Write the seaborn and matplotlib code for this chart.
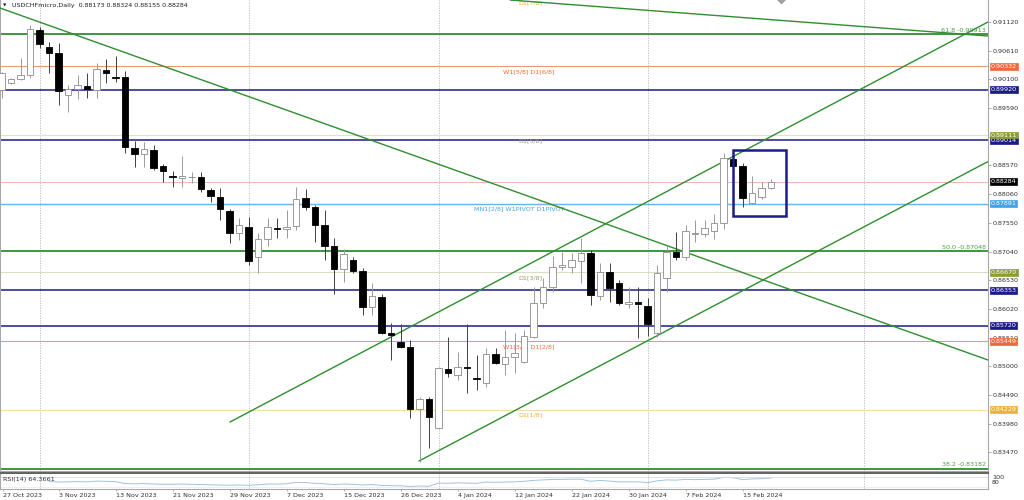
"""
USDCHFmicro daily candles with pivot / murrey levels, channel and RSI pane
"""

import matplotlib
matplotlib.use("Agg")
import matplotlib.pyplot as plt
import matplotlib.transforms as mtransforms
from matplotlib.patches import Rectangle
import numpy as np
import pandas as pd
import seaborn as sns

# Data: daily bars 26 Oct 2023 .. 20 Feb 2024 (no bars on 25 Dec / 1 Jan)
opens = [0.89911, 0.90041, 0.90101, 0.90178, 0.90978, 0.90681, 0.90569, 0.89822, 0.89929, 0.89982,
         0.89911, 0.90267, 0.90142, 0.90142, 0.88880, 0.88774, 0.88845, 0.88560, 0.88374, 0.88347,
         0.88356, 0.88365, 0.88134, 0.88009, 0.87761, 0.87370, 0.87476, 0.86943, 0.87263, 0.87467,
         0.87441, 0.87494, 0.87992, 0.87832, 0.87512, 0.87139, 0.86730, 0.86890, 0.86694, 0.86054,
         0.86232, 0.85592, 0.85432, 0.85343, 0.84241, 0.84419, 0.83904, 0.84952, 0.84846, 0.84988,
         0.84792, 0.84703, 0.85219, 0.85041, 0.85166, 0.85077, 0.85521, 0.86125, 0.86410, 0.86765,
         0.86765, 0.86872, 0.87014, 0.86250, 0.86676, 0.86481, 0.86108, 0.86143, 0.86072, 0.85592,
         0.86570, 0.87032, 0.86943, 0.87352, 0.87352, 0.87405, 0.87547, 0.88685, 0.88560, 0.87903,
         0.88009, 0.88173]
highs = [0.90231, 0.90125, 0.90480, 0.91067, 0.91031, 0.90765, 0.90747, 0.90000, 0.90178, 0.90214,
         0.90391, 0.90462, 0.90516, 0.90249, 0.89005, 0.88987, 0.88934, 0.88600, 0.88472, 0.88738,
         0.88454, 0.88454, 0.88170, 0.88170, 0.87796, 0.87636, 0.87654, 0.87370, 0.87636, 0.87636,
         0.87778, 0.88187, 0.88152, 0.87867, 0.87778, 0.87281, 0.87085, 0.86943, 0.86747, 0.86481,
         0.86285, 0.85770, 0.85752, 0.85468, 0.84455, 0.84455, 0.84988, 0.85521, 0.85255, 0.85752,
         0.85201, 0.85326, 0.85326, 0.85646, 0.85592, 0.85646, 0.86410, 0.86570, 0.86961, 0.87032,
         0.87014, 0.87281, 0.87067, 0.86836, 0.86836, 0.86534, 0.86410, 0.86410, 0.86214, 0.86801,
         0.87156, 0.87387, 0.87512, 0.87601, 0.87601, 0.87707, 0.88791, 0.88738, 0.88614, 0.88383,
         0.88276, 0.88324]
lows = [0.89769, 0.90018, 0.90089, 0.90125, 0.90658, 0.90214, 0.89645, 0.89520, 0.89751, 0.89769,
        0.89769, 0.90036, 0.90054, 0.88791, 0.88543, 0.88543, 0.88489, 0.88276, 0.88187, 0.88187,
        0.88258, 0.88098, 0.87920, 0.87601, 0.87192, 0.87245, 0.86801, 0.86659, 0.87139, 0.87281,
        0.87281, 0.87423, 0.87778, 0.87210, 0.86890, 0.86285, 0.86499, 0.86659, 0.85912, 0.85912,
        0.85583, 0.85112, 0.85326, 0.84081, 0.83299, 0.83548, 0.83886, 0.84810, 0.84757, 0.84526,
        0.84579, 0.84632, 0.85041, 0.84846, 0.84881, 0.85059, 0.85503, 0.86037, 0.86321, 0.86712,
        0.86659, 0.86481, 0.86090, 0.86179, 0.86143, 0.86090, 0.86037, 0.85503, 0.85539, 0.85521,
        0.86321, 0.86890, 0.86890, 0.87210, 0.87299, 0.87263, 0.87441, 0.88525, 0.87832, 0.87885,
        0.87974, 0.88155]
closes = [0.90214, 0.90101, 0.90183, 0.90996, 0.90729, 0.90574, 0.89885, 0.89929, 0.90000, 0.89929,
          0.90285, 0.90214, 0.90130, 0.88898, 0.88774, 0.88863, 0.88525, 0.88472, 0.88356, 0.88383,
          0.88365, 0.88152, 0.88027, 0.87796, 0.87370, 0.87512, 0.86872, 0.87263, 0.87476, 0.87449,
          0.87476, 0.87974, 0.87832, 0.87512, 0.87139, 0.86730, 0.86996, 0.86694, 0.86054, 0.86250,
          0.85592, 0.85548, 0.85343, 0.84241, 0.84419, 0.84098, 0.84970, 0.84881, 0.84988, 0.84970,
          0.84783, 0.85219, 0.85059, 0.85166, 0.85237, 0.85539, 0.86125, 0.86410, 0.86765, 0.86792,
          0.86890, 0.87014, 0.86268, 0.86676, 0.86392, 0.86125, 0.86143, 0.86108, 0.85752, 0.86659,
          0.87032, 0.86943, 0.87405, 0.87361, 0.87467, 0.87547, 0.88703, 0.88560, 0.87992, 0.88081,
          0.88170, 0.88284]

# RSI(14), first value is for the 6th bar
rsi_start = 5
rsi_values = [51, 48, 49, 50, 49, 52, 51, 50,
              42, 41, 42, 40, 39,
              39, 40, 39, 38, 37, 36, 35, 36,
              35,
              37, 40, 40, 41, 47,
              46, 43, 41, 38, 40, 39,
              36, 38, 34, 33, 33, 30, 32, 31,
              44, 43, 45, 44, 43, 48, 47, 48, 49, 51,
              55, 57, 59, 59, 60, 60,
              51, 55, 52, 49, 49, 49,
              46, 53, 57, 56, 59, 58, 59, 60, 67,
              66, 58, 61, 62, 64.3661]

# Price levels
fib_prices = [0.90913, 0.87048, 0.83182]
fib_names = ["61.8", "50.0", "38.2"]
murrey_prices = [0.91552, 0.90332, 0.89111, 0.87891, 0.86670, 0.85449, 0.84229]
murrey_labels = ["D1[7/8]", "W1[5/8] D1[6/8]", "D1[5/8]", "MN1[2/8] W1PIVOT D1PIVOT",
                 "D1[3/8]", "W1[3/8] D1[2/8]", "D1[1/8]"]
navy_prices = [0.89920, 0.89014, 0.86353, 0.85720]

# Trend lines as (bar index pair, price pair)
trend_lines = [
    ([-0.16, 103.84], [0.91369, 0.85112]),
    ([53.53, 103.84], [0.91511, 0.90871]),
    ([24.05, 103.84], [0.84010, 0.91120]),
    ([43.95, 103.84], [0.83317, 0.88639]),
]
box_bars = [77.0, 82.6]
box_prices = [0.87672, 0.88845]

price_ticks = [0.91120, 0.90610, 0.90100, 0.89590, 0.89080, 0.88570, 0.88060, 0.87550,
               0.87040, 0.86530, 0.86020, 0.85510, 0.85000, 0.84490, 0.83980, 0.83470]

# Bar dates
dates = pd.bdate_range("2023-10-26", "2024-02-20")
dates = dates[~dates.isin(pd.to_datetime(["2023-12-25", "2024-01-01"]))]

# Style
sns.set_theme(style="white")
plt.rcParams["font.family"] = ["DejaVu Sans"]
FS = 4.6
GREEN = "#2f8f2f"
NAVY = "#1c1c86"
ORANGE = "#ee6a3c"
GOLD = "#eeb035"
OLIVE = "#8e9c36"
LBLUE = "#45a3e4"

murrey_style = [
    (GOLD, "#f2dca8", 54.4),
    (ORANGE, "#e99a7a", 52.8),
    ("#9a9a78", "#e2e2cc", 54.4),
    (LBLUE, "#7cbfec", 49.7),
    ("#9c9c5c", "#dcdcc4", 54.4),
    (ORANGE, "#e99a7a", 52.8),
    (GOLD, "#f2dca8", 54.4),
]


def main():
    fig = plt.figure(figsize=(10.24, 5.0), dpi=100)
    fig.patch.set_facecolor("white")
    ax = fig.add_axes([0, 1 - 471 / 500, 988 / 1024, 471 / 500])
    rsi_ax = fig.add_axes([0, 1 - 489 / 500, 988 / 1024, 16 / 500])

    n = len(closes)
    x = np.arange(n)
    o, h, l, c = map(np.array, (opens, highs, lows, closes))
    up = c >= o

    # month separators
    month_first = [i for i in range(1, n) if dates[i].month != dates[i - 1].month]
    for i in month_first + [90.8]:
        ax.axvline(i, color="#b8b8b8", lw=0.6, ls=(0, (1.5, 1.5)), zorder=1)
        rsi_ax.axvline(i, color="#b8b8b8", lw=0.6, ls=(0, (1.5, 1.5)), zorder=1)

    # horizontal levels
    for p, (tcol, lcol, lx), lab in zip(murrey_prices, murrey_style, murrey_labels):
        ax.axhline(p, color=lcol, lw=0.8, zorder=2)
        ax.annotate(lab, (lx, p), xytext=(0, -2.2), textcoords="offset points",
                    ha="left", va="top", fontsize=FS, color=tcol, annotation_clip=False,
                    clip_on=True, zorder=3)
    for p in navy_prices:
        ax.axhline(p, color=NAVY, lw=1.1, zorder=2)
    ax.axhline(closes[-1], color="#ebb8a8", lw=0.7, zorder=2)
    ax.axhline(murrey_prices[3], color="#6cb6ea", lw=1.0, zorder=2)
    yx = mtransforms.blended_transform_factory(ax.transAxes, ax.transData)
    for p, name in zip(fib_prices, fib_names):
        ax.axhline(p, color=GREEN, lw=1.3, zorder=2)
        ax.annotate(f"{name} -{p:.5f}", (0.998, p), xycoords=yx, xytext=(0, 0.8),
                    textcoords="offset points", ha="right", va="bottom",
                    fontsize=FS, color="#4c9a4c", zorder=3)

    # trend lines
    for bx, bp in trend_lines:
        ax.plot(bx, bp, color=GREEN, lw=1.0, zorder=4)

    # candles
    wick_col = np.where(up, "#9a9a9a", "#404040")
    ax.vlines(x, l, h, colors=wick_col, lw=0.7, zorder=5)
    body = np.maximum(np.abs(c - o), 0.00003)
    ax.bar(x, body, bottom=np.minimum(o, c), width=0.72,
           color=np.where(up, "white", "black"),
           edgecolor=np.where(up, "#8c8c8c", "black"), linewidth=0.6, zorder=6)

    # selection box
    ax.add_patch(Rectangle((box_bars[0], box_prices[0]), box_bars[1] - box_bars[0],
                           box_prices[1] - box_prices[0], fill=False,
                           edgecolor=NAVY, lw=1.8, zorder=7))
    ax.plot([82.0], [0.91528], marker="D", ms=4, color="#a0a0a0", clip_on=True, zorder=7)

    ax.set_xlim(-0.158, 103.84)
    ax.set_ylim(0.83139, 0.91511)
    ax.yaxis.tick_right()
    ax.set_yticks(price_ticks)
    ax.set_yticklabels([f"{p:.5f}" for p in price_ticks])
    ax.tick_params(axis="y", right=True, length=2, width=0.5, pad=1.5,
                   labelsize=FS, labelcolor="#303030", color="#909090")
    ax.set_xticks([])
    ax.spines["top"].set_visible(False)
    for side in ["right", "left", "bottom"]:
        ax.spines[side].set_color("#a8a8a8")
        ax.spines[side].set_linewidth(0.8)

    # right-axis value boxes (later ones drawn on top)
    boxes = [
        (murrey_prices[1], ORANGE), (navy_prices[0], NAVY), (navy_prices[1], NAVY),
        (murrey_prices[2], OLIVE), (closes[-1], "black"), (murrey_prices[3], LBLUE),
        (murrey_prices[4], OLIVE), (navy_prices[2], NAVY), (navy_prices[3], NAVY),
        (murrey_prices[5], ORANGE), (murrey_prices[6], GOLD),
    ]
    for k, (p, col) in enumerate(boxes):
        ax.text(1.0025, p, f"{p:.5f}", transform=yx, ha="left", va="center",
                fontsize=FS, color="white", zorder=10 + k,
                bbox=dict(boxstyle="square,pad=0.15", fc=col, ec=col, lw=0.5))

    # header
    fig.text(3 / 1024, 1 - 5.5 / 500, "\u25bc", fontsize=3.2, color="#202020",
             ha="left", va="center")
    fig.text(12 / 1024, 1 - 5.5 / 500,
             "USDCHFmicro,Daily  0.88173 0.88324 0.88155 0.88284",
             fontsize=FS, color="#202020", ha="left", va="center")

    # RSI pane
    rsi_df = pd.DataFrame({"bar": np.arange(rsi_start, rsi_start + len(rsi_values)),
                           "rsi": rsi_values})
    sns.lineplot(data=rsi_df, x="bar", y="rsi", ax=rsi_ax, color="#9fc4d8", lw=0.7)
    rsi_ax.axhline(70, color="#dcdcdc", lw=0.6)
    rsi_ax.axhline(30, color="#ececec", lw=0.6)
    rsi_ax.set_xlim(-0.158, 103.84)
    rsi_ax.set_ylim(19.8, 85.1)
    rsi_ax.set_xlabel("")
    rsi_ax.set_ylabel("")
    rsi_ax.set_yticks([])
    rsi_ax.text(0.003, 0.62, f"RSI(14) {rsi_values[-1]:.4f}", transform=rsi_ax.transAxes,
                fontsize=FS, color="#303030", ha="left", va="center")
    rsi_ax.text(1.004, 0.72, "100", transform=rsi_ax.transAxes, fontsize=FS,
                color="#303030", ha="left", va="center")
    rsi_ax.text(1.004, 0.40, "80", transform=rsi_ax.transAxes, fontsize=FS,
                color="#303030", ha="left", va="center")
    rsi_ax.spines["top"].set_color("#606060")
    rsi_ax.spines["top"].set_linewidth(1.4)
    for side in ["left", "right", "bottom"]:
        rsi_ax.spines[side].set_color("#a8a8a8")
        rsi_ax.spines[side].set_linewidth(0.8)

    tick_pos = [0.15] + list(range(6, n, 6))
    tick_lab = [dates[1].strftime("%-d %b %Y")] + [dates[i].strftime("%-d %b %Y")
                                                   for i in range(6, n, 6)]
    rsi_ax.set_xticks(tick_pos)
    rsi_ax.set_xticklabels(tick_lab, ha="left")
    rsi_ax.tick_params(axis="x", bottom=True, length=1.5, width=0.5, pad=1.2,
                       labelsize=FS, labelcolor="#303030", color="#909090")

    fig.savefig("out.png", dpi=100, facecolor="white")
    plt.close(fig)


if __name__ == "__main__":
    main()
